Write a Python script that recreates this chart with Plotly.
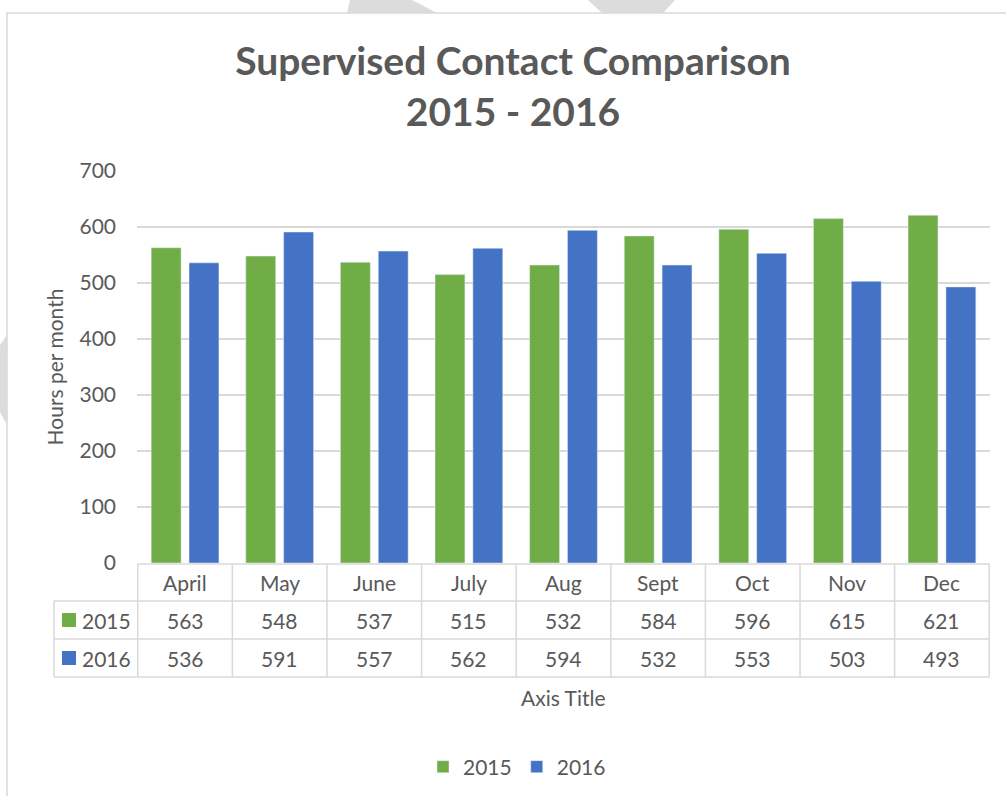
import plotly.graph_objects as go

months = ["April", "May", "June", "July", "Aug", "Sept", "Oct", "Nov", "Dec"]
series_names = ["2015", "2016"]
values_2015 = [563, 548, 537, 515, 532, 584, 596, 615, 621]
values_2016 = [536, 591, 557, 562, 594, 532, 553, 503, 493]
y_ticks = [0, 100, 200, 300, 400, 500, 600, 700]

GREEN = "#70AD47"
BLUE = "#4472C4"
TXT = "#595959"
GRID = "#D9D9D9"
FONT = "Lato, 'Open Sans', sans-serif"

W, H = 1006, 796


def py(y):
    return 1 - y / H


def pxx(x):
    return x / W


fig = go.Figure()
fig.add_trace(go.Bar(x=months, y=values_2015, name=series_names[0], marker_color=GREEN))
fig.add_trace(go.Bar(x=months, y=values_2016, name=series_names[1], marker_color=BLUE))

shapes = []
annotations = []

# decorative background watermark pieces outside the chart frame
shapes.append(dict(type="path", xref="paper", yref="paper", layer="below",
                   path=f"M{pxx(350)},{py(0)} L{pxx(412)},{py(0)} L{pxx(437)},{py(13)} L{pxx(347)},{py(13)} Z",
                   fillcolor="#DCDCDC", line=dict(width=0)))
shapes.append(dict(type="path", xref="paper", yref="paper", layer="below",
                   path=f"M{pxx(588)},{py(0)} L{pxx(675)},{py(0)} L{pxx(663)},{py(13)} L{pxx(602)},{py(13)} Z",
                   fillcolor="#DCDCDC", line=dict(width=0)))
shapes.append(dict(type="path", xref="paper", yref="paper", layer="below",
                   path=f"M{pxx(0)},{py(345)} L{pxx(7)},{py(335)} L{pxx(7)},{py(425)} L{pxx(0)},{py(412)} Z",
                   fillcolor="#DCDCDC", line=dict(width=0)))
# chart frame
shapes.append(dict(type="rect", xref="paper", yref="paper", layer="below",
                   x0=pxx(7), x1=pxx(1020), y0=py(13), y1=py(810),
                   line=dict(color=GRID, width=1.5), fillcolor="rgba(0,0,0,0)"))

# data table below the plot
row_lines = [564, 601, 639, 677]
line_style = dict(color=GRID, width=1.5)
n = len(months)
shapes.append(dict(type="line", xref="x", yref="paper", x0=-0.5, x1=n - 0.5,
                   y0=py(row_lines[0]), y1=py(row_lines[0]), line=line_style))
for yl in row_lines[1:]:
    shapes.append(dict(type="line", xref="paper", yref="paper", x0=pxx(54), x1=pxx(137),
                       y0=py(yl), y1=py(yl), line=line_style))
    shapes.append(dict(type="line", xref="x", yref="paper", x0=-0.5, x1=n - 0.5,
                       y0=py(yl), y1=py(yl), line=line_style))
for i in range(n + 1):
    shapes.append(dict(type="line", xref="x", yref="paper", x0=i - 0.5, x1=i - 0.5,
                       y0=py(row_lines[0]), y1=py(row_lines[-1]), line=line_style))
shapes.append(dict(type="line", xref="paper", yref="paper", x0=pxx(54), x1=pxx(54),
                   y0=py(row_lines[1]), y1=py(row_lines[-1]), line=line_style))

tfont = dict(family=FONT, size=21, color=TXT)
row_centers = [(row_lines[k] + row_lines[k + 1]) / 2 for k in range(3)]
for i, m in enumerate(months):
    annotations.append(dict(x=m, y=py(row_centers[0]), xref="x", yref="paper", text=m,
                            showarrow=False, font=tfont, xanchor="center", yanchor="middle"))
    annotations.append(dict(x=m, y=py(row_centers[1]), xref="x", yref="paper", text=str(values_2015[i]),
                            showarrow=False, font=tfont, xanchor="center", yanchor="middle"))
    annotations.append(dict(x=m, y=py(row_centers[2]), xref="x", yref="paper", text=str(values_2016[i]),
                            showarrow=False, font=tfont, xanchor="center", yanchor="middle"))
for k, (name, col) in enumerate(zip(series_names, [GREEN, BLUE])):
    yc = row_centers[k + 1]
    shapes.append(dict(type="rect", xref="paper", yref="paper", x0=pxx(62), x1=pxx(76),
                       y0=py(yc - 7), y1=py(yc + 7), fillcolor=col, line=dict(width=0)))
    annotations.append(dict(x=pxx(80), y=py(yc), xref="paper", yref="paper", text=name,
                            showarrow=False, font=tfont, xanchor="left", yanchor="middle"))

# x axis title
annotations.append(dict(x=0.5, y=py(697), xref="x domain", yref="paper", text="Axis Title",
                        showarrow=False, font=tfont, xanchor="center", yanchor="middle"))

fig.update_layout(
    width=W, height=H,
    margin=dict(l=0, r=0, t=0, b=0, pad=0, autoexpand=False),
    paper_bgcolor="white", plot_bgcolor="white",
    font=dict(family=FONT, color=TXT, size=21),
    title=dict(text="<b>Supervised Contact Comparison<br>2015 - 2016</b>",
               x=pxx(513), xanchor="center", y=py(75), yanchor="middle",
               font=dict(family=FONT, size=39, color=TXT)),
    barmode="group", bargap=0.2, bargroupgap=0.21,
    xaxis=dict(domain=[pxx(137), pxx(990)], showticklabels=False, showline=False,
               showgrid=False, zeroline=False, ticks="", automargin=False),
    yaxis=dict(domain=[py(563), py(171)], range=[0, 700], tickvals=y_ticks, automargin=False,
               showgrid=True, gridcolor=GRID, gridwidth=1.5, zeroline=False, showline=False,
               ticks="", ticklabelstandoff=20, tickfont=dict(family=FONT, size=21, color=TXT),
               title=dict(text="Hours per month", standoff=10, font=dict(family=FONT, size=21, color=TXT))),
    legend=dict(orientation="h", x=pxx(517), xanchor="center", y=py(767), yanchor="middle",
                font=dict(family=FONT, size=21, color=TXT), bgcolor="rgba(0,0,0,0)"),
    shapes=shapes,
    annotations=annotations,
)

fig.write_html("out.html", config={"displayModeBar": False},
               post_script="document.body.style.margin='0px';document.body.style.overflow='hidden';")
